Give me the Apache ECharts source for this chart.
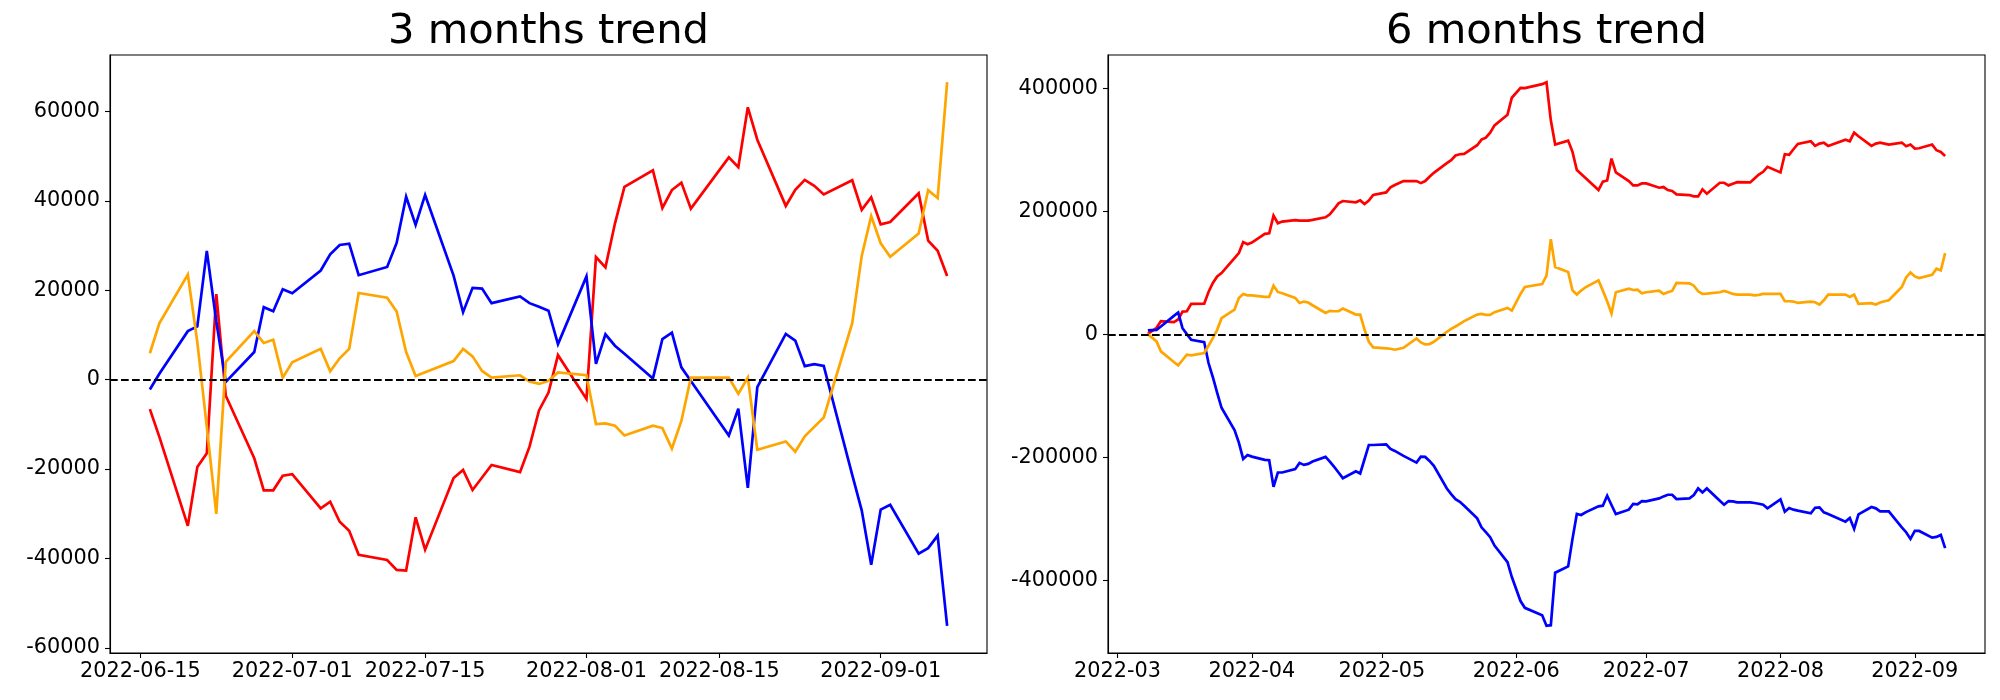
<!DOCTYPE html>
<html><head><meta charset="utf-8">
<script src="https://cdn.jsdelivr.net/npm/echarts@6.0.0/dist/echarts.min.js"></script>
<style>html,body{margin:0;padding:0;background:#fff}#c{width:2000px;height:700px}</style>
</head><body><div id="c"></div>
<script>
// ---------- 3 months ----------
const dates3 = ['2022-06-16','2022-06-17','2022-06-20','2022-06-21','2022-06-22','2022-06-23','2022-06-24','2022-06-27','2022-06-28','2022-06-29','2022-06-30',
'2022-07-01','2022-07-04','2022-07-05','2022-07-06','2022-07-07','2022-07-08','2022-07-11','2022-07-12','2022-07-13','2022-07-14','2022-07-15','2022-07-18','2022-07-19','2022-07-20','2022-07-21','2022-07-22','2022-07-25','2022-07-26','2022-07-27','2022-07-28','2022-07-29',
'2022-08-01','2022-08-02','2022-08-03','2022-08-04','2022-08-05','2022-08-08','2022-08-09','2022-08-10','2022-08-11','2022-08-12','2022-08-16','2022-08-17','2022-08-18','2022-08-19','2022-08-22','2022-08-23','2022-08-24','2022-08-25','2022-08-26','2022-08-29','2022-08-30','2022-08-31',
'2022-09-01','2022-09-02','2022-09-05','2022-09-06','2022-09-07','2022-09-08'];
const red3 = [-6600,-12800,-32700,-19560,-16500,19100,-3600,-17600,-24760,-24760,-21500,
-21150,-28800,-27300,-31800,-33800,-39200,-40350,-42550,-42700,-30800,-38050,-22000,-20200,-24700,-21900,-19100,-20700,-15000,-6900,-2900,5460,
-4320,27400,25100,34900,43100,46800,38400,42400,44050,38240,49700,47500,60900,53650,38850,42460,44670,43350,41400,44580,37970,40790,
34710,35240,41670,31100,28800,23170];
const blue3 = [-2200,1300,10840,11900,28800,13000,-500,6170,16200,15300,20200,
19300,24400,28000,30100,30400,23350,25200,30570,40900,34600,41300,23260,15070,20530,20350,17100,18600,17100,16300,15400,7930,
23080,3520,10130,7580,5800,260,9070,10480,2730,-300,-12500,-6520,-24230,-1670,10220,8720,3000,3440,3080,-21300,-29250,-41400,
-29070,-28000,-38940,-37700,-34900,-55070];
const orange3 = [5900,12600,23500,8370,-10570,-30040,3960,10840,8190,8900,440,
3880,6870,1850,4760,6870,19380,18320,15240,6170,790,1670,4140,6870,5200,1940,440,970,-440,-970,-260,1590,
970,-9960,-9780,-10300,-12500,-10300,-10840,-15420,-9250,440,440,-3170,440,-15680,-13830,-16120,-12690,-10570,-8460,12600,27660,36560,
30480,27490,32690,42380,40610,66520];
const xTicks3 = ['2022-06-15','2022-07-01','2022-07-15','2022-08-01','2022-08-15','2022-09-01'];
const yTicks3 = [-60000,-40000,-20000,0,20000,40000,60000];

// ---------- 6 months ----------
const dates6 = ['2022-03-08','2022-03-10','2022-03-11','2022-03-14','2022-03-15','2022-03-16','2022-03-17','2022-03-18','2022-03-21','2022-03-22','2022-03-23','2022-03-24','2022-03-25','2022-03-28','2022-03-29','2022-03-30','2022-03-31',
'2022-04-01','2022-04-04','2022-04-05','2022-04-06','2022-04-07','2022-04-08','2022-04-11','2022-04-12','2022-04-13','2022-04-14','2022-04-15','2022-04-18','2022-04-19','2022-04-20','2022-04-21','2022-04-22','2022-04-25','2022-04-26','2022-04-27','2022-04-28','2022-04-29',
'2022-05-02','2022-05-03','2022-05-04','2022-05-06','2022-05-09','2022-05-10','2022-05-11','2022-05-12','2022-05-13','2022-05-16','2022-05-17','2022-05-18','2022-05-19','2022-05-20','2022-05-23','2022-05-24','2022-05-25','2022-05-26','2022-05-27','2022-05-30','2022-05-31',
'2022-06-02','2022-06-03','2022-06-07','2022-06-08','2022-06-09','2022-06-10','2022-06-13','2022-06-14','2022-06-15','2022-06-16','2022-06-17','2022-06-20','2022-06-21','2022-06-22','2022-06-23','2022-06-24','2022-06-27','2022-06-28','2022-06-29','2022-06-30',
'2022-07-01','2022-07-04','2022-07-05','2022-07-06','2022-07-07','2022-07-08','2022-07-11','2022-07-12','2022-07-13','2022-07-14','2022-07-15','2022-07-18','2022-07-19','2022-07-20','2022-07-21','2022-07-22','2022-07-25','2022-07-26','2022-07-27','2022-07-28','2022-07-29',
'2022-08-01','2022-08-02','2022-08-03','2022-08-04','2022-08-05','2022-08-08','2022-08-09','2022-08-10','2022-08-11','2022-08-12','2022-08-16','2022-08-17','2022-08-18','2022-08-19','2022-08-22','2022-08-23','2022-08-24','2022-08-25','2022-08-26','2022-08-29','2022-08-30','2022-08-31',
'2022-09-01','2022-09-02','2022-09-05','2022-09-06','2022-09-07','2022-09-08'];
const red6 = [1100,10800,21600,19900,24300,37200,37700,49600,50100,69000,83600,94300,99700,124000,132100,149900,146600,
149300,163300,164400,193000,180600,183300,185500,184900,184900,184900,186000,190300,195200,203800,212900,216700,214600,217800,211900,217300,226400,
230700,238800,242600,249100,249100,245800,249100,256100,262500,278200,283000,290600,292700,293300,307300,316400,319700,327800,339600,356900,384400,
400600,400000,406500,409700,347700,308400,314800,296500,266900,260400,253900,234500,248000,250100,285700,263100,249100,242100,242100,245300,
245300,238300,239400,234500,232900,227500,226400,224300,224300,235600,228600,246400,246400,242100,244800,247400,246900,253400,259800,264200,272200,
263100,292700,291700,300800,309400,313800,306200,310000,311600,306200,316400,313800,327800,321800,306200,310000,311600,310000,308400,311600,305700,308400,
301900,302400,308400,299200,296500,290000];
const blue6 = [6500,7500,12900,30200,35600,10200,500,-8600,-12400,-46400,-69500,-94900,-119100,-155200,-175700,-202100,-195700,
-198400,-203700,-204300,-247400,-224200,-224200,-218800,-208600,-211800,-210200,-206400,-198900,-206400,-215100,-224200,-233400,-222100,-225800,-202700,-179500,-179500,
-178400,-186000,-189200,-197300,-208100,-198400,-198900,-205400,-213400,-250100,-259300,-267400,-271700,-278100,-298600,-313200,-321200,-329300,-342800,-369800,-394000,
-433000,-444000,-456000,-473200,-472200,-387000,-376800,-332000,-291600,-293200,-288900,-279200,-278100,-262000,-277000,-291600,-284600,-275400,-276000,-270600,
-271100,-266300,-263000,-260300,-260300,-267300,-266300,-260900,-250100,-256600,-250100,-270000,-276500,-270600,-271100,-272700,-272700,-273800,-274900,-276500,-282400,
-267900,-287800,-281900,-284600,-286200,-290500,-281400,-280800,-288900,-291600,-304000,-298100,-315900,-292100,-280300,-282400,-287300,-287300,-287300,-313200,-321200,-332000,
-319100,-319100,-329900,-328800,-325600,-347100];
const orange6 = [500,-11300,-27500,-44700,-50100,-41500,-32900,-34000,-30200,-18300,-5900,7500,26400,40400,59300,65800,63600,
63600,60900,60900,79200,69000,66800,59300,51200,53400,51800,47400,35000,38300,37700,37700,42000,32300,32300,8100,-11900,-21000,
-22600,-23200,-24800,-21600,-6500,-12900,-16200,-15600,-11900,4300,9200,12900,17300,21600,32300,33400,31800,31800,36100,43100,38800,
65800,77100,81900,95400,154700,109400,101400,71700,64700,71200,76600,87900,71200,53900,34000,68500,74400,72200,72800,66800,
68500,71200,65800,68500,70600,83600,83000,79200,70100,65800,66300,68500,70600,68500,65800,64700,64700,63600,64200,65800,65800,
65800,53900,53900,53400,51200,53400,52300,48500,55500,64700,64700,60900,64700,49600,50700,48500,51800,53900,55500,77100,92700,100800,
94300,91600,97000,106700,104000,132100];
const xTicks6 = ['2022-03-01','2022-04-01','2022-05-01','2022-06-01','2022-07-01','2022-08-01','2022-09-01'];
const yTicks6 = [-400000,-200000,0,200000,400000];

const titles = ['3 months trend','6 months trend'];
const colors = {red:'#ff0000', blue:'#0000ff', orange:'#ffa500'};

// ---------- helpers ----------
function ts(s){const p=s.split('-');return Date.UTC(+p[0],+p[1]-1,+p[2]);}
function pairs(d,v){return d.map((s,i)=>[ts(s),v[i]]);}
function xRange(d){const a=ts(d[0]),b=ts(d[d.length-1]);const m=(b-a)*0.05;return [a-m,b+m];}
function yRange(arrs){let lo=Infinity,hi=-Infinity;arrs.forEach(a=>a.forEach(v=>{lo=Math.min(lo,v);hi=Math.max(hi,v);}));const m=(hi-lo)*0.05;return [lo-m,hi+m];}
function p2(n){return String(n).padStart(2,'0');}
function fmtDay(v){const d=new Date(v);return d.getUTCFullYear()+'-'+p2(d.getUTCMonth()+1)+'-'+p2(d.getUTCDate());}
function fmtMonth(v){const d=new Date(v);return d.getUTCFullYear()+'-'+p2(d.getUTCMonth()+1);}

const FONT = 'DejaVu Sans';
const grids = [
  {left:110, top:55, width:877, height:598},
  {left:1108, top:55, width:877, height:598}
];
const xr3 = xRange(dates3), xr6 = xRange(dates6);
const yr3 = yRange([red3,blue3,orange3]), yr6 = yRange([red6,blue6,orange6]);

function xAxis(idx, rng, ticks, fmt){
  return {type:'value', gridIndex:idx, min:rng[0], max:rng[1],
    axisLine:{show:true, onZero:false, lineStyle:{color:'#000', width:1.1}},
    axisTick:{show:true, length:5, lineStyle:{color:'#000', width:1.1}, customValues:ticks.map(ts)},
    axisLabel:{show:true, color:'#000', fontFamily:FONT, fontSize:20.8, margin:8, customValues:ticks.map(ts), formatter:fmt, hideOverlap:false, showMinLabel:true, showMaxLabel:true},
    splitLine:{show:false}};
}
function yAxis(idx, rng, ticks){
  return {type:'value', gridIndex:idx, min:rng[0], max:rng[1],
    axisLine:{show:true, onZero:false, lineStyle:{color:'#000', width:1.1}},
    axisTick:{show:true, length:5, lineStyle:{color:'#000', width:1.1}, customValues:ticks},
    axisLabel:{show:true, color:'#000', fontFamily:FONT, fontSize:20.8, margin:10, customValues:ticks, formatter:v=>String(v)},
    splitLine:{show:false}};
}
function line(idx, d, v, c, withZero){
  const s = {type:'line', xAxisIndex:idx, yAxisIndex:idx, data:pairs(d,v), showSymbol:false, symbol:'none',
    lineStyle:{color:c, width:2.7, join:'miter', miterLimit:4}, itemStyle:{color:c}, clip:true, z:2};
  if(withZero){
    s.markLine = {silent:true, symbol:['none','none'], label:{show:false}, animation:false, z:5,
      lineStyle:{color:'#000', width:2.1, type:[7.7,3.3]}, data:[{yAxis:0}]};
  }
  return s;
}

const chart = echarts.init(document.getElementById('c'), null, {renderer:'canvas', devicePixelRatio:1});
chart.setOption({
  animation:false,
  backgroundColor:'#fff',
  grid: grids.map(g=>Object.assign({show:true, borderColor:'#000', borderWidth:1.1, backgroundColor:'transparent', containLabel:false}, g)),
  xAxis:[xAxis(0,xr3,xTicks3,fmtDay), xAxis(1,xr6,xTicks6,fmtMonth)],
  yAxis:[yAxis(0,yr3,yTicks3), yAxis(1,yr6,yTicks6)],
  series:[
    line(0,dates3,red3,colors.red,false),
    line(0,dates3,blue3,colors.blue,false),
    line(0,dates3,orange3,colors.orange,true),
    line(1,dates6,red6,colors.red,false),
    line(1,dates6,blue6,colors.blue,false),
    line(1,dates6,orange6,colors.orange,true)
  ],
  graphic:[
    {type:'text', x:548.5, y:32.5, z:10, style:{text:titles[0], fill:'#000', font:'41.7px "DejaVu Sans"', align:'center', verticalAlign:'middle'}},
    {type:'text', x:1546.5, y:32.5, z:10, style:{text:titles[1], fill:'#000', font:'41.7px "DejaVu Sans"', align:'center', verticalAlign:'middle'}}
  ]
});
</script>
</body></html>
